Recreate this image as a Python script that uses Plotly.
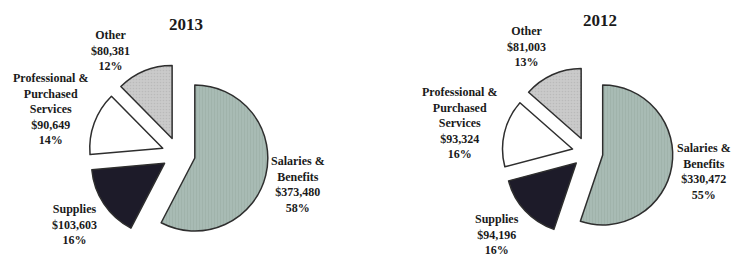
import plotly.graph_objects as go

W, H = 736, 256

categories = ["Salaries &<br>Benefits", "Supplies", "Professional &<br>Purchased<br>Services", "Other"]
values_2013 = [373480, 103603, 90649, 80381]
values_2012 = [330472, 94196, 93324, 81003]
pct_2013 = ["58%", "16%", "14%", "12%"]
pct_2012 = ["55%", "16%", "16%", "13%"]
years = ["2013", "2012"]

colors = ["#a8bbb4", "#1d1b29", "#ffffff", "#cacaca"]
pattern_shapes = ["|", "", "", "."]
pattern_fg = ["#92a59e", "#1d1b29", "#ffffff", "#a9a9a9"]


def px_x(x):
    return x / W


def px_y(y):
    return 1 - y / H


fig = go.Figure()


def add_pie(vals, cx, cy, r, pull):
    tot = r * (1 + pull)
    fig.add_trace(go.Pie(
        values=vals,
        labels=[c.replace("<br>", " ") for c in categories],
        sort=False,
        direction="clockwise",
        rotation=0,
        pull=[pull] * len(vals),
        textinfo="none",
        hoverinfo="label+value+percent",
        showlegend=False,
        marker=dict(
            colors=colors,
            line=dict(color="#2e2e2e", width=1.5),
            pattern=dict(shape=pattern_shapes, fgcolor=pattern_fg, bgcolor=colors,
                         fillmode="overlay", size=3, solidity=0.25),
        ),
        domain=dict(x=[px_x(cx - tot), px_x(cx + tot)], y=[px_y(cy + tot), px_y(cy - tot)]),
    ))


add_pie(values_2013, 178.5, 154, 73, 0.23)
add_pie(values_2012, 587.5, 152.5, 70, 0.22)

font = dict(family="Liberation Serif", size=12, color="#1a1a1a")


def lab(i, vals, pcts, x, y):
    return dict(
        text="<b>" + categories[i] + "<br>$" + f"{vals[i]:,}" + "<br>" + pcts[i] + "</b>",
        x=px_x(x), y=px_y(y), xref="paper", yref="paper",
        showarrow=False, align="center", font=font,
        xanchor="center", yanchor="middle",
    )


title_font = dict(family="Liberation Serif", size=17, color="#1a1a1a")
annotations = [
    dict(text="<b>" + years[0] + "</b>", x=px_x(186), y=px_y(24), xref="paper", yref="paper",
         showarrow=False, font=title_font, xanchor="center", yanchor="middle"),
    dict(text="<b>" + years[1] + "</b>", x=px_x(600), y=px_y(20), xref="paper", yref="paper",
         showarrow=False, font=title_font, xanchor="center", yanchor="middle"),
    lab(0, values_2013, pct_2013, 298, 184.5),
    lab(1, values_2013, pct_2013, 74, 224.5),
    lab(2, values_2013, pct_2013, 50, 109),
    lab(3, values_2013, pct_2013, 110, 50.5),
    lab(0, values_2012, pct_2012, 704, 171.5),
    lab(1, values_2012, pct_2012, 497, 234),
    lab(2, values_2012, pct_2012, 459, 123),
    lab(3, values_2012, pct_2012, 526, 46),
]

fig.update_layout(
    width=W, height=H,
    margin=dict(l=0, r=0, t=0, b=0),
    paper_bgcolor="white", plot_bgcolor="white",
    annotations=annotations,
)

fig.write_html(
    "out.html",
    config={"displayModeBar": False},
    post_script="document.body.style.margin='0';document.body.style.overflow='hidden';",
)
